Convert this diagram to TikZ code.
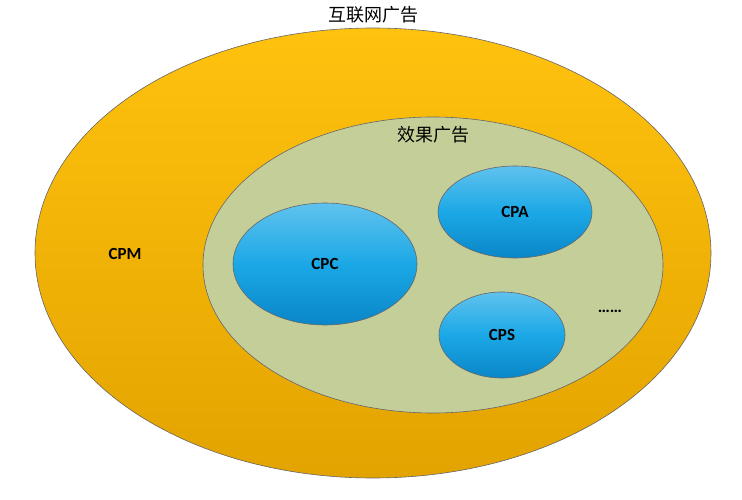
\documentclass[tikz,border=0pt]{standalone}
\usepackage{fontspec}
\setmainfont{Carlito}
\newfontfamily\cjk{Noto Sans CJK SC}
\usetikzlibrary{shapes.geometric}
\definecolor{orA}{HTML}{FFC20E}
\definecolor{orB}{HTML}{E3A300}
\definecolor{grn}{HTML}{C4CE99}
\definecolor{blA}{HTML}{1BA8E6}
\definecolor{blB}{HTML}{0A86C8}
\begin{document}
\begin{tikzpicture}[x=1pt,y=-1pt,
  el/.style={ellipse,draw=black!60,line width=0.6pt,inner sep=0pt},
  blue/.style={el,top color=blA!70!white,bottom color=blB,middle color=blA},
  lab/.style={font=\fontsize{17}{20}\selectfont\bfseries}]
\useasboundingbox (0,0) rectangle (742,500);
\node[el,minimum width=676,minimum height=450,top color=orA,bottom color=orB] (outer) at (373,253) {};
\node[el,minimum width=460,minimum height=296,fill=grn] (inner) at (433,265) {};
\node[blue,minimum width=184,minimum height=122] (cpc) at (325,264) {};
\node[blue,minimum width=154,minimum height=92] (cpa) at (515,212) {};
\node[blue,minimum width=126,minimum height=86] (cps) at (502,335) {};
\node[font=\cjk\fontsize{18}{21}\selectfont] (t1) at (373,15) {互联网广告};
\node[font=\cjk\fontsize{18}{21}\selectfont] (t2) at (433,135) {效果广告};
\node[lab] (cpm) at (125,254) {CPM};
\node[lab] at (cpc) {CPC};
\node[lab] at (cpa) {CPA};
\node[lab] at (cps) {CPS};
\node[lab] (dots) at (610,311) {……};
\end{tikzpicture}
\end{document}
